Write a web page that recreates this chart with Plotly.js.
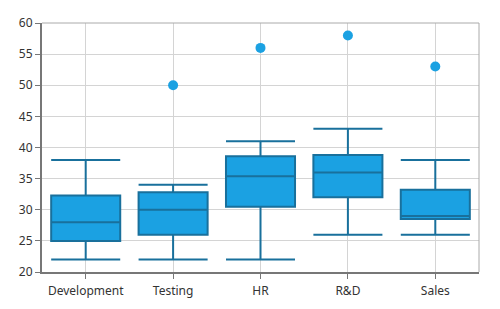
<!DOCTYPE html>
<html>
<head>
<meta charset="utf-8">
<script src="https://cdn.plot.ly/plotly-3.0.1.min.js"></script>
<style>html,body{margin:0;padding:0;background:#fff;}#chart{width:500px;height:309px;}</style>
</head>
<body>
<div id="chart"></div>
<script>
var categories = ["Development", "Testing", "HR", "R&D", "Sales"];
var lowerWhisker = [22, 22, 22, 26, 26];
var q1Values = [25, 26, 30.5, 32, 28.5];
var medianValues = [28, 30, 35.4, 36, 29];
var q3Values = [32.3, 32.8, 38.6, 38.8, 33.2];
var upperWhisker = [38, 34, 41, 43, 38];
var outlierCategories = ["Testing", "HR", "R&D", "Sales"];
var outlierValues = [50, 56, 58, 53];

var fillColor = "#1BA1E2";
var lineColor = "#19709C";

var traces = [
  {
    type: "box",
    x: categories,
    q1: q1Values,
    median: medianValues,
    q3: q3Values,
    lowerfence: lowerWhisker,
    upperfence: upperWhisker,
    fillcolor: fillColor,
    line: {color: lineColor, width: 2},
    whiskerwidth: 1,
    width: 0.79,
    boxpoints: false,
    hoverinfo: "skip",
    showlegend: false
  },
  {
    type: "scatter",
    mode: "markers",
    x: outlierCategories,
    y: outlierValues,
    marker: {color: fillColor, size: 10},
    showlegend: false
  }
];

var layout = {
  width: 500,
  height: 309,
  margin: {l: 42, r: 21, t: 23, b: 37},
  paper_bgcolor: "#fff",
  plot_bgcolor: "#fff",
  font: {family: "'Noto Sans', 'Open Sans', sans-serif", size: 12, color: "#333"},
  xaxis: {
    type: "category",
    categoryorder: "array",
    categoryarray: categories,
    range: [-0.5, 4.5],
    showgrid: true,
    gridcolor: "#d4d4d4",
    gridwidth: 1,
    showline: true,
    linecolor: "#777",
    linewidth: 2,
    ticks: "outside",
    ticklen: 5,
    tickcolor: "#777",
    ticklabelstandoff: 2,
    tickfont: {size: 12, color: "#333"},
    mirror: false,
    zeroline: false
  },
  yaxis: {
    range: [20, 60],
    dtick: 5,
    tick0: 20,
    showgrid: true,
    gridcolor: "#d4d4d4",
    gridwidth: 1,
    showline: true,
    linecolor: "#777",
    linewidth: 2,
    ticks: "outside",
    ticklen: 5,
    tickcolor: "#777",
    tickfont: {size: 12, color: "#333"},
    zeroline: false
  },
  shapes: [
    {type: "line", xref: "paper", yref: "paper", x0: 0, x1: 1, y0: 1, y1: 1, line: {color: "#aaa", width: 1}},
    {type: "line", xref: "paper", yref: "paper", x0: 1, x1: 1, y0: 0, y1: 1, line: {color: "#aaa", width: 1}}
  ]
};

Plotly.newPlot("chart", traces, layout, {displayModeBar: false, staticPlot: true});
</script>
</body>
</html>
